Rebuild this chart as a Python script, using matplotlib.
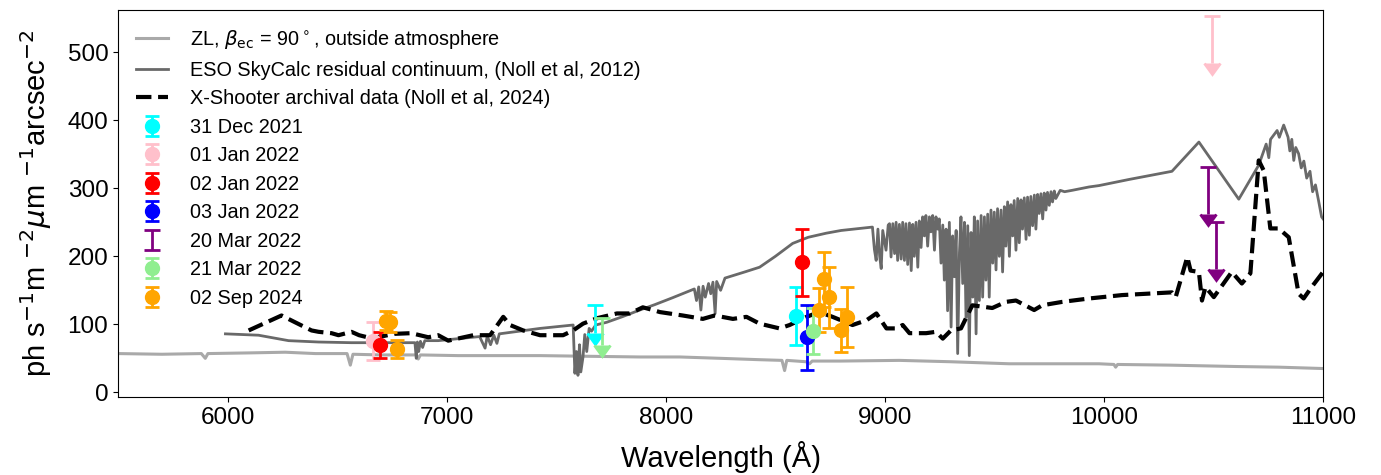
import numpy as np
import matplotlib
matplotlib.use('Agg')
import matplotlib.pyplot as plt

plt.rcParams['font.family'] = ['Liberation Sans', 'DejaVu Sans']
plt.rcParams['mathtext.fontset'] = 'dejavusans'

# Zodiacal light, beta_ec = 90 deg, outside atmosphere
zl_wave = [5500, 5700, 5880, 5898, 5910, 6100, 6263, 6400, 6545, 6560, 6572, 6700,
           6862, 6870, 6880, 7052, 7250, 7426, 7650, 7881, 8064, 8250, 8428, 8530,
           8542, 8552, 8640, 8656, 8668, 8800, 9066, 9300, 9567, 9800, 9977, 10045,
           10053, 10062, 10300, 10600, 10800, 11000]
zl_flux = [57, 56, 57, 50, 57, 58, 59, 57, 57, 40, 56, 55,
           55, 49, 55, 54, 54, 54, 53, 52, 52, 50, 48, 47,
           32, 47, 45, 42, 46, 46, 47, 45, 42, 42, 42, 41,
           37, 41, 40, 38, 37, 35]

# ESO SkyCalc residual continuum
sc_wave = [5990, 6141, 6278, 6415, 6565, 6793, 6855, 6861, 6866, 6872, 6880, 6890, 6900,
           6910, 6961, 7121, 7150, 7175, 7185, 7200, 7215, 7229, 7240, 7426, 7577,
           7585, 7592, 7599, 7606, 7612, 7622, 7630, 7639, 7650, 7661, 7680, 7730,
           7800, 7881, 7950, 8030, 8100, 8130, 8140, 8150, 8160, 8170, 8180, 8195,
           8205, 8215, 8225, 8232, 8250, 8270, 8300, 8360, 8428, 8500, 8579, 8650,
           8732, 8800, 8884, 8943, 8952, 8960,
           8968, 8976, 8983, 8990, 9005, 9015, 9021, 9028, 9036, 9044, 9051, 9058,
           9066, 9074, 9081, 9089, 9096, 9104, 9112, 9120, 9127, 9134, 9142, 9150,
           9157, 9165, 9172, 9180, 9187, 9195, 9203, 9210, 9218, 9226, 9233, 9241,
           9248, 9256, 9264, 9271, 9279, 9286, 9294, 9302, 9309, 9317, 9325, 9332,
           9340, 9347, 9355, 9363, 9370, 9378, 9385, 9393, 9401, 9408, 9416, 9423,
           9431, 9439, 9446, 9454, 9461, 9469, 9476, 9484, 9492, 9499, 9507, 9514,
           9522, 9530, 9537, 9545, 9552, 9560, 9568, 9575, 9583, 9590, 9598, 9606,
           9613, 9621, 9628, 9636, 9644, 9651, 9659, 9666, 9674, 9682, 9689, 9697,
           9704, 9712, 9720, 9727, 9735, 9742, 9750, 9758, 9765, 9773, 9780, 9800,
           9820, 9854, 9932, 9977, 10114, 10310, 10433, 10615, 10706, 10740, 10752,
           10760, 10790, 10800, 10820, 10840, 10848, 10857, 10866, 10875, 10888,
           10900, 10912, 10925, 10940, 10952, 10965, 10979, 10993, 11000]
sc_flux = [86, 84, 76, 74, 73, 73, 73, 50, 74, 60, 75, 66, 76,
           76, 76, 81, 82, 65, 83, 70, 84, 72, 86, 94, 99,
           28, 60, 25, 70, 30, 52, 85, 60, 94, 90, 99, 103,
           111, 121, 129, 139, 148, 152, 135, 155, 121, 156, 140, 160,
           145, 162, 116, 163, 150, 168, 171, 177, 184, 200, 219, 228,
           234, 238, 241, 243, 210, 194,
           240, 200, 182, 238, 209, 246, 248, 199, 248, 204, 250, 194,
           247, 196, 250, 194, 248, 188, 249, 179, 247, 200, 250, 184,
           252, 213, 258, 230, 260, 215, 258, 236, 260, 209, 258, 240,
           255, 190, 246, 165, 240, 120, 250, 96, 230, 170, 238, 57,
           205, 258, 160, 250, 110, 245, 54, 235, 140, 258, 86, 252,
           135, 260, 140, 258, 165, 262, 140, 268, 190, 265, 180, 270,
           200, 268, 177, 273, 215, 280, 200, 276, 230, 282, 209, 285,
           220, 283, 240, 286, 225, 287, 231, 288, 245, 290, 240, 291,
           263, 292, 255, 293, 268, 294, 275, 295, 280, 296, 285, 297,
           295, 297, 302, 304, 313, 325, 368, 284, 334, 365, 345,
           372, 385, 375, 393, 375, 355, 372, 341, 360, 351,
           330, 340, 315, 325, 295, 305, 282, 258, 255]

# X-Shooter archival data
xs_wave = [6096, 6246, 6308, 6383, 6415, 6474, 6506, 6565, 6600, 6650, 6700, 6760,
           6838, 6916, 6961, 7007, 7121, 7198, 7258, 7289, 7349, 7426, 7531, 7577,
           7622, 7686, 7777, 7836, 7895, 7941, 7973, 8077, 8169, 8223, 8306, 8368,
           8428, 8519, 8565, 8642, 8700, 8761, 8852, 8916, 8961, 9007, 9052, 9081,
           9112, 9188, 9233, 9264, 9301, 9347, 9399, 9490, 9552, 9598, 9681, 9718,
           9809, 9932, 10082, 10310, 10327, 10380, 10395, 10433, 10447, 10463, 10501,
           10583, 10629, 10668, 10706, 10729, 10759, 10797, 10843, 10888, 10911,
           10948, 11000]
xs_flux = [91, 113, 103, 91, 89, 87, 84, 89, 84, 80, 82, 86,
           87, 81, 84, 76, 84, 84, 111, 99, 91, 84, 84, 91,
           101, 109, 116, 116, 125, 121, 118, 113, 108, 113, 108, 111,
           101, 94, 99, 111, 118, 111, 99, 106, 116, 94, 94, 99,
           87, 87, 89, 79, 91, 94, 128, 124, 133, 135, 121, 128,
           133, 138, 143, 147, 140, 199, 179, 177, 135, 155, 140,
           177, 160, 175, 341, 326, 241, 241, 228, 145, 138,
           155, 177]

# observations: wavelength, value, error ; upper limits: wavelength, value, arrow length
dates = ['31 Dec 2021', '01 Jan 2022', '02 Jan 2022', '03 Jan 2022',
         '20 Mar 2022', '21 Mar 2022', '02 Sep 2024']
colors = ['cyan', 'pink', 'red', 'blue', 'purple', 'lightgreen', 'orange']
det_wave = [[8595], [6665], [6696, 8622], [8643], [], [8671],
            [6722, 6742, 6771, 8699, 8720, 8747, 8800, 8826]]
det_flux = [[112], [76], [69, 191], [81], [], [90],
            [105, 103, 64, 121, 166, 140, 91, 111]]
det_err = [[43], [28], [19, 49], [48], [], [34],
           [14, 15, 13, 33, 41, 45, 32, 44]]
ul_wave = [[7677], [10492], [], [], [10474, 10510], [7708], []]
ul_flux = [[128], [553], [], [], [331, 250], [110], []]
ul_len = [[41], [69], [], [], [69, 68], [41], []]

fig = plt.figure(figsize=(13.81, 4.75), dpi=100)
ax = fig.add_axes([0.0855, 0.164, 0.8726, 0.8147])

ax.plot(zl_wave, zl_flux, color='darkgray', lw=2.2,
        label=r'ZL, $\beta_{\rm ec}$ = 90$^\circ$, outside atmosphere')
ax.plot(sc_wave, sc_flux, color='dimgray', lw=2,
        label='ESO SkyCalc residual continuum, (Noll et al, 2012)')
ax.plot(xs_wave, xs_flux, color='black', lw=3, ls='--',
        label='X-Shooter archival data (Noll et al, 2024)')

for i in range(len(dates)):
    if det_wave[i]:
        ax.errorbar(det_wave[i], det_flux[i], yerr=det_err[i], fmt='o', color=colors[i],
                    ms=10, elinewidth=2, capsize=5, capthick=2, label=dates[i])
    if ul_wave[i]:
        lab = dates[i] if not det_wave[i] else None
        ax.errorbar(ul_wave[i], ul_flux[i], yerr=ul_len[i], uplims=True, fmt='none',
                    color=colors[i], elinewidth=2, capsize=5.5, capthick=2, label=lab)

ax.set_xlim(5500, 11000)
ax.set_ylim(-7, 562)
ax.set_xticks([6000, 7000, 8000, 9000, 10000, 11000])
ax.tick_params(labelsize=17.5)
ax.set_xlabel('Wavelength (Å)', fontsize=21, labelpad=9)
ax.set_ylabel(r'ph s$^{-1}$m $^{-2}$$\mu$m $^{-1}$arcsec$^{-2}$', fontsize=21, labelpad=10)

h, l = ax.get_legend_handles_labels()
ax.legend(h, l, loc='upper left', frameon=False, fontsize=14.3, handlelength=1.6,
          handletextpad=1.1, labelspacing=0.48, borderaxespad=0.5)

fig.savefig('out.png', dpi=100)
